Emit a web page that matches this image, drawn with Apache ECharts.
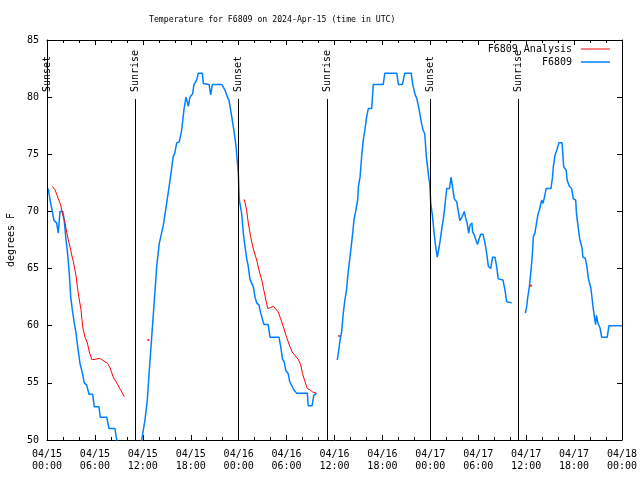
<!DOCTYPE html>
<html><head><meta charset="utf-8">
<script src="https://cdn.jsdelivr.net/npm/echarts@6/dist/echarts.min.js"></script>
<style>html,body{margin:0;padding:0;background:#fff}#c{width:640px;height:480px}</style>
</head><body><div id="c"></div>
<script>
const titleText = 'Temperature for F6809 on 2024-Apr-15 (time in UTC)';
const yAxisName = 'degrees F';
const xTickLabels = ['04/15\n00:00','04/15\n06:00','04/15\n12:00','04/15\n18:00',
  '04/16\n00:00','04/16\n06:00','04/16\n12:00','04/16\n18:00',
  '04/17\n00:00','04/17\n06:00','04/17\n12:00','04/17\n18:00','04/18\n00:00'];

// F6809 observations (hours since 04/15 00:00 UTC, deg F); null = gap
const obsHours = [0.16,0.38,0.66,0.88,1.21,1.41,1.63,1.97,2.13,2.38,2.54,2.79,2.97,3.17,3.42,3.63,3.84,4.13,4.42,4.67,4.97,5.26,5.72,5.92,6.51,6.67,7.48,7.76,8.51,8.73,9.2,10.5,11.5,11.86,12.27,12.56,12.81,13.11,13.44,13.74,14.06,14.57,15.0,15.4,15.8,16.0,16.24,16.57,16.86,17.15,17.4,17.7,17.9,18.24,18.4,18.74,18.95,19.45,19.57,20.3,20.5,20.7,21.9,22.3,22.6,22.8,23.13,23.4,23.67,23.96,24.08,24.38,24.58,24.8,25.0,25.2,25.42,25.67,25.84,26.05,26.26,26.55,26.76,26.96,27.17,27.7,27.92,29.05,29.26,29.5,29.7,29.9,30.2,30.4,30.6,30.9,31.25,32.6,32.7,33.2,33.4,33.77,
  null,
  36.35,36.5,36.7,36.9,37.1,37.3,37.5,37.7,37.94,38.23,38.44,38.65,38.9,39.0,39.2,39.4,39.6,39.8,40.03,40.23,40.66,40.86,42.1,42.3,43.8,44.0,44.5,44.8,45.6,45.8,46.1,46.3,46.6,46.9,47.1,47.3,47.5,47.8,47.92,48.05,48.25,48.46,48.67,48.87,49.09,49.3,49.5,49.7,49.9,50.05,50.4,50.6,50.75,51.0,51.3,51.5,51.7,51.96,52.25,52.4,52.6,52.8,52.97,53.2,53.3,53.47,53.7,53.9,54.1,54.3,54.6,54.85,55.06,55.27,55.56,55.8,56.1,56.3,56.5,56.7,57.1,57.35,57.56,57.7,58.2,
  null,
  59.9,60.07,60.2,60.4,60.57,60.7,60.8,60.9,61.1,61.3,61.5,61.65,61.95,62.1,62.25,62.5,63.1,63.3,63.4,63.6,63.85,64.1,64.5,64.7,65.0,65.15,65.4,65.7,65.9,66.2,66.3,66.5,66.7,67.0,67.1,67.4,67.6,67.8,68.1,68.25,68.4,68.6,68.7,68.8,69.0,69.25,69.45,70.15,70.37,71.75,72.0];
const obsTemps = [72.0,71.0,70.0,69.2,69.0,68.1,70.0,70.0,69.4,67.5,66.6,64.6,62.5,61.4,60.2,59.4,58.2,56.7,55.9,55.0,54.8,54.0,54.0,52.9,52.9,52.0,52.0,51.0,51.0,50.0,48.5,47.5,48.8,50.0,51.75,53.5,56.1,59.0,62.2,65.2,67.2,68.8,70.8,72.7,74.8,75.1,76.0,76.1,77.1,78.9,80.0,79.2,80.0,80.3,81.1,81.5,82.1,82.1,81.2,81.1,80.2,81.1,81.1,80.6,80.0,79.7,78.3,77.1,75.7,73.3,71.0,69.8,68.1,66.9,65.9,65.2,64.05,64.05,63.4,62.5,62.0,61.8,61.1,61.0,60.1,60.1,59.0,59.0,58.2,57.05,56.85,56.1,55.8,55.1,54.95,54.4,54.1,54.1,53.0,53.0,53.9,54.1,
  null,
  57.0,57.7,58.75,59.5,61.1,62.25,63.1,64.6,66.0,67.8,69.25,70.0,71.0,72.2,73.0,74.8,76.25,77.1,78.3,79.0,79.0,81.1,81.1,82.1,82.1,81.1,81.1,82.1,82.1,81.1,80.2,79.9,78.9,77.7,77.1,76.8,74.8,73.0,72.45,70.7,69.7,68.2,66.9,66.0,66.8,67.8,68.8,69.7,71.0,72.0,72.0,73.0,72.3,71.1,70.85,70.0,69.2,69.5,70.0,69.5,69.0,68.1,68.8,69.0,68.2,68.0,68.0,67.1,67.1,68.0,68.0,67.2,66.3,65.2,65.0,66.0,66.0,65.2,64.1,64.0,64.0,63.1,62.1,62.0,62.0,
  null,
  61.1,61.7,62.5,63.4,64.6,65.6,66.5,67.8,68.1,69.0,69.8,70.1,71.0,70.7,71.1,72.0,72.0,73.0,73.9,74.9,75.4,76.0,76.0,73.9,73.6,72.7,72.2,72.0,71.1,71.0,69.8,68.7,67.6,66.8,66.0,65.9,65.2,64.1,63.3,62.4,61.5,60.5,60.1,60.9,60.2,59.8,59.0,59.0,60.0,60.0,60.0];

// F6809 Analysis
const anaHours = [0.66,1.0,1.4,1.7,1.97,2.25,2.47,2.67,2.88,3.09,3.3,3.63,3.8,4.05,4.26,4.47,4.76,5.05,5.3,5.6,6.0,6.55,6.85,7.26,7.6,7.9,8.3,8.73,9.2,9.68,
  null,
  24.7,25.0,25.2,25.5,25.8,26.26,26.6,26.9,27.1,27.4,27.65,28.0,28.35,28.6,28.96,29.26,29.6,30.0,30.4,30.7,31.05,31.47,31.76,32.0,32.3,32.6,32.9,33.27,33.7];
const anaTemps = [72.2,71.9,71.15,70.6,69.7,69.0,68.2,67.5,66.9,66.2,65.6,64.4,63.4,62.25,61.4,59.9,59.0,58.5,57.7,57.05,57.05,57.15,57.05,56.85,56.7,56.3,55.5,55.0,54.4,53.8,
  null,
  71.05,70.1,69.0,67.8,66.8,65.75,64.7,64.0,63.3,62.25,61.5,61.6,61.7,61.7,61.2,60.6,59.9,59.0,58.2,57.7,57.4,57.05,56.6,55.8,55.1,54.5,54.4,54.2,54.1];
const anaDotHours = [12.69, 36.6, 60.6];
const anaDotTemps = [58.75, 59.1, 63.5];

// Sunrise / sunset markers
const sunHours = [0.0, 11.02, 23.92, 35.06, 47.96, 58.98];
const sunLabels = ['Sunset','Sunrise','Sunset','Sunrise','Sunset','Sunrise'];

const MONO = 'DejaVu Sans Mono';
const pairs = (xs, ys) => xs.map((x, i) => [x, ys[i]]);
const lineTop = 79.84, labelBase = 80.45;

const axisCommon = {
  type: 'value', min: 0, max: 72, interval: 6,
  axisLine: { show: true, lineStyle: { color: '#000', width: 1 } },
  axisTick: { show: true, inside: true, length: 5, lineStyle: { color: '#000' } },
  minorTick: { show: true, splitNumber: 3, length: 3, lineStyle: { color: '#000' } },
  splitLine: { show: false }, minorSplitLine: { show: false }
};
const yCommon = {
  type: 'value', min: 50, max: 85, interval: 5,
  axisLine: { show: true, onZero: false, lineStyle: { color: '#000', width: 1 } },
  axisTick: { show: true, inside: true, length: 5, lineStyle: { color: '#000' } },
  splitLine: { show: false }
};

const chart = echarts.init(document.getElementById('c'), null, { renderer: 'canvas' });
chart.setOption({
  animation: false,
  backgroundColor: '#fff',
  title: { text: titleText, left: 149, top: 16, padding: 0,
    textStyle: { fontFamily: MONO, fontSize: 8.2, fontWeight: 'normal', color: '#000' } },
  grid: { left: 47, right: 18, top: 40, bottom: 40, containLabel: false, outerBoundsMode: 'none' },
  legend: [
    { data: ['F6809 Analysis'], right: 30, top: 44, padding: 0, align: 'right', icon: 'rect',
      itemWidth: 29, itemHeight: 1, selectedMode: false,
      textStyle: { fontFamily: MONO, fontSize: 10, color: '#000', padding: [0, 4, 0, 0] } },
    { data: ['F6809'], right: 30, top: 57, padding: 0, align: 'right', icon: 'rect',
      itemWidth: 29, itemHeight: 1.5, selectedMode: false,
      textStyle: { fontFamily: MONO, fontSize: 10, color: '#000', padding: [0, 4, 0, 0] } }
  ],
  xAxis: [
    Object.assign({}, axisCommon, { position: 'bottom',
      axisLabel: { show: true, margin: 8, fontFamily: MONO, fontSize: 10, color: '#000', lineHeight: 12,
        formatter: v => xTickLabels[Math.round(v / 6)] } }),
    Object.assign({}, axisCommon, { position: 'top', axisLabel: { show: false } })
  ],
  yAxis: [
    Object.assign({}, yCommon, { position: 'left', name: yAxisName, nameLocation: 'middle', nameGap: 31,
      nameRotate: 90, nameTextStyle: { fontFamily: MONO, fontSize: 10, color: '#000' },
      axisLabel: { show: true, margin: 8, fontFamily: MONO, fontSize: 10, color: '#000' } }),
    Object.assign({}, yCommon, { position: 'right', axisLabel: { show: false } })
  ],
  series: [
    { name: 'F6809 Analysis', type: 'line', data: pairs(anaHours, anaTemps), showSymbol: false,
      connectNulls: false, clip: true, z: 3,
      lineStyle: { color: '#ff0000', width: 1 }, itemStyle: { color: '#ff0000' } },
    { name: 'F6809 Analysis', type: 'scatter', data: pairs(anaDotHours, anaDotTemps), symbol: 'rect',
      symbolSize: 2, z: 3, itemStyle: { color: '#ff0000' } },
    { name: 'F6809', type: 'line', data: pairs(obsHours, obsTemps), showSymbol: false,
      connectNulls: false, clip: true, z: 2,
      lineStyle: { color: '#0080ff', width: 1.5 }, itemStyle: { color: '#0080ff' } },
    { name: 'sun', type: 'line', data: [], z: 4,
      markLine: { silent: true, animation: false, symbol: ['none', 'none'],
        lineStyle: { color: '#000', width: 1, type: 'solid' }, label: { show: false },
        data: sunHours.map(h => [{ coord: [h, 50] }, { coord: [h, lineTop] }]) },
      markPoint: { silent: true, animation: false, symbol: 'rect', symbolSize: 1,
        itemStyle: { color: 'rgba(0,0,0,0)' },
        label: { show: true, formatter: '{b}', rotate: 90, position: 'inside', align: 'left',
          verticalAlign: 'middle', fontFamily: MONO, fontSize: 10, color: '#000' },
        data: sunHours.map((h, i) => ({ name: sunLabels[i], coord: [h, labelBase] })) } }
  ]
});
</script></body></html>
